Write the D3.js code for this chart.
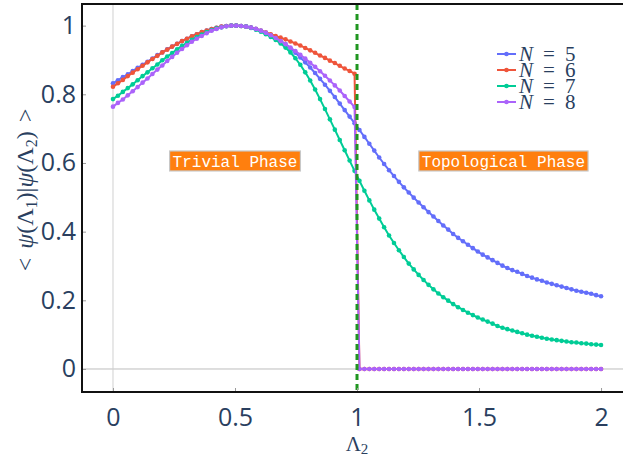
<!DOCTYPE html>
<html>
<head>
<meta charset="utf-8">
<script src="https://cdn.jsdelivr.net/npm/d3@7"></script>
<style>
  html, body { margin: 0; padding: 0; background: #ffffff; }
  svg { display: block; }
</style>
</head>
<body>
<svg id="chart" width="623" height="459"></svg>
<script>
// Sampling grid of the swept coupling Λ2 (100 evenly spaced samples on [0, 2])
const lambdaStart = 0;
const lambdaEnd = 2;
const sampleCount = 100;

// Ground-state overlap <ψ(Λ1)|ψ(Λ2)> for each chain length, one value per sample
const overlapN5 = [
  0.832, 0.841, 0.850, 0.858, 0.868, 0.877, 0.886, 0.895, 0.904, 0.914,
  0.922, 0.931, 0.939, 0.947, 0.955, 0.962, 0.969, 0.975, 0.981, 0.986,
  0.990, 0.994, 0.997, 0.999, 1.000, 1.000, 0.999, 0.998, 0.995, 0.991,
  0.986, 0.980, 0.973, 0.965, 0.956, 0.946, 0.934, 0.921, 0.907, 0.893,
  0.878, 0.862, 0.845, 0.828, 0.810, 0.792, 0.773, 0.754, 0.735, 0.716,
  0.696, 0.676, 0.656, 0.636, 0.616, 0.597, 0.579, 0.562, 0.545, 0.529,
  0.514, 0.499, 0.485, 0.471, 0.457, 0.444, 0.431, 0.418, 0.406, 0.393,
  0.382, 0.372, 0.362, 0.352, 0.342, 0.333, 0.325, 0.317, 0.309, 0.301,
  0.294, 0.288, 0.283, 0.277, 0.271, 0.266, 0.261, 0.257, 0.252, 0.248,
  0.244, 0.240, 0.236, 0.232, 0.228, 0.225, 0.222, 0.219, 0.215, 0.212
];
const overlapN6 = [
  0.822, 0.832, 0.842, 0.853, 0.863, 0.873, 0.883, 0.893, 0.903, 0.912,
  0.922, 0.930, 0.939, 0.947, 0.955, 0.962, 0.969, 0.975, 0.981, 0.986,
  0.990, 0.994, 0.997, 0.999, 1.000, 1.000, 0.999, 0.997, 0.994, 0.990,
  0.985, 0.980, 0.975, 0.970, 0.965, 0.960, 0.954, 0.948, 0.942, 0.935,
  0.928, 0.921, 0.913, 0.906, 0.898, 0.891, 0.883, 0.875, 0.868, 0.860,
  0, 0, 0, 0, 0, 0, 0, 0, 0, 0,
  0, 0, 0, 0, 0, 0, 0, 0, 0, 0,
  0, 0, 0, 0, 0, 0, 0, 0, 0, 0,
  0, 0, 0, 0, 0, 0, 0, 0, 0, 0,
  0, 0, 0, 0, 0, 0, 0, 0, 0, 0
];
const overlapN7 = [
  0.786, 0.796, 0.807, 0.818, 0.829, 0.841, 0.853, 0.864, 0.876, 0.887,
  0.899, 0.910, 0.920, 0.931, 0.941, 0.950, 0.959, 0.967, 0.974, 0.981,
  0.987, 0.992, 0.995, 0.998, 1.000, 1.000, 0.999, 0.997, 0.993, 0.988,
  0.982, 0.975, 0.967, 0.958, 0.948, 0.936, 0.922, 0.905, 0.886, 0.864,
  0.840, 0.814, 0.786, 0.757, 0.727, 0.697, 0.667, 0.637, 0.607, 0.577,
  0.548, 0.519, 0.491, 0.464, 0.438, 0.413, 0.389, 0.367, 0.346, 0.326,
  0.307, 0.290, 0.274, 0.259, 0.245, 0.232, 0.220, 0.209, 0.199, 0.189,
  0.180, 0.172, 0.164, 0.157, 0.150, 0.144, 0.138, 0.132, 0.125, 0.120,
  0.116, 0.112, 0.108, 0.104, 0.100, 0.097, 0.094, 0.091, 0.088, 0.086,
  0.084, 0.082, 0.080, 0.078, 0.077, 0.075, 0.074, 0.072, 0.071, 0.070
];
const overlapN8 = [
  0.764, 0.775, 0.785, 0.797, 0.809, 0.821, 0.834, 0.846, 0.859, 0.872,
  0.884, 0.897, 0.909, 0.921, 0.932, 0.943, 0.953, 0.962, 0.970, 0.978,
  0.985, 0.990, 0.995, 0.998, 1.000, 1.000, 0.999, 0.997, 0.994, 0.990,
  0.985, 0.979, 0.972, 0.964, 0.955, 0.946, 0.936, 0.926, 0.915, 0.904,
  0.892, 0.880, 0.867, 0.854, 0.840, 0.826, 0.811, 0.795, 0.779, 0.763,
  0, 0, 0, 0, 0, 0, 0, 0, 0, 0,
  0, 0, 0, 0, 0, 0, 0, 0, 0, 0,
  0, 0, 0, 0, 0, 0, 0, 0, 0, 0,
  0, 0, 0, 0, 0, 0, 0, 0, 0, 0,
  0, 0, 0, 0, 0, 0, 0, 0, 0, 0
];

const chainLengths = [5, 6, 7, 8];
const seriesColors = ["#636efa", "#EF553B", "#00cc96", "#ab63fa"];

const xTickValues = [0, 0.5, 1, 1.5, 2];
const xTickLabels = ["0", "0.5", "1", "1.5", "2"];
const yTickValues = [0, 0.2, 0.4, 0.6, 0.8, 1];
const yTickLabels = ["0", "0.2", "0.4", "0.6", "0.8", "1"];

// Phase boundary and phase annotations
const criticalLambda = 1;
const phaseLabelText = ["Trivial Phase", "Topological Phase"];
const phaseLabelLambda = [0.5, 1.6];
const phaseLabelOverlap = [0.6, 0.6];

// ---------------------------------------------------------------------------
const W = 623, H = 459;
const plot = { left: 82, right: 623, top: 4, bottom: 392 };
const inkColor = "#2a3f5f";
const mathFont = "'Liberation Serif', 'DejaVu Serif', serif";

const lambda2 = d3.range(sampleCount).map(i => lambdaStart + (lambdaEnd - lambdaStart) * i / (sampleCount - 1));
const series = [overlapN5, overlapN6, overlapN7, overlapN8].map((vals, k) => ({
  n: chainLengths[k],
  color: seriesColors[k],
  points: vals.map((v, i) => ({ x: lambda2[i], y: v }))
}));

const x = d3.scaleLinear().domain([-0.127, 2.09]).range([plot.left, plot.right]);
const y = d3.scaleLinear().domain([-0.067, 1.063]).range([plot.bottom, plot.top]);

const svg = d3.select("#chart");
svg.append("rect").attr("width", W).attr("height", H).attr("fill", "#ffffff");

svg.append("defs").append("clipPath").attr("id", "plot-clip")
  .append("rect")
  .attr("x", plot.left).attr("y", plot.top)
  .attr("width", plot.right - plot.left).attr("height", plot.bottom - plot.top);

// Zero lines
svg.append("line")
  .attr("x1", plot.left).attr("x2", plot.right)
  .attr("y1", y(0)).attr("y2", y(0))
  .attr("stroke", "#bdbdbd").attr("stroke-width", 1);
svg.append("line")
  .attr("x1", x(0)).attr("x2", x(0))
  .attr("y1", plot.top).attr("y2", plot.bottom)
  .attr("stroke", "#d0d0d0").attr("stroke-width", 1);

// Traces
const traces = svg.append("g").attr("clip-path", "url(#plot-clip)");
const line = d3.line().x(d => x(d.x)).y(d => y(d.y));
series.forEach(s => {
  const g = traces.append("g");
  g.append("path")
    .attr("d", line(s.points))
    .attr("fill", "none")
    .attr("stroke", s.color)
    .attr("stroke-width", 2)
    .attr("stroke-linejoin", "round");
  g.selectAll("circle").data(s.points).join("circle")
    .attr("cx", d => x(d.x)).attr("cy", d => y(d.y))
    .attr("r", 2.3)
    .attr("fill", s.color);
});

// Critical point marker
svg.append("line")
  .attr("x1", x(criticalLambda)).attr("x2", x(criticalLambda))
  .attr("y1", plot.top).attr("y2", plot.bottom)
  .attr("stroke", "#1f961f").attr("stroke-width", 3)
  .attr("stroke-dasharray", "6,4");

// Axes with inside ticks
const xAxis = d3.axisBottom(x).tickValues(xTickValues)
  .tickFormat((d, i) => xTickLabels[i]).tickSizeInner(-4).tickSizeOuter(0).tickPadding(16);
const yAxis = d3.axisLeft(y).tickValues(yTickValues)
  .tickFormat((d, i) => yTickLabels[i]).tickSizeInner(-4).tickSizeOuter(0).tickPadding(6);

const gx = svg.append("g").attr("transform", `translate(0,${plot.bottom})`).call(xAxis);
const gy = svg.append("g").attr("transform", `translate(${plot.left},0)`).call(yAxis);
[gx, gy].forEach(g => {
  g.select(".domain").remove();
  g.selectAll(".tick line").attr("stroke", "#9a9a9a").attr("stroke-width", 1);
  g.selectAll(".tick text")
    .attr("fill", inkColor)
    .style("font-family", "'Open Sans', sans-serif")
    .style("font-size", "25px");
});

// Frame lines: left, bottom and mirrored top
const frame = svg.append("g").attr("stroke", "#111").attr("stroke-width", 2);
frame.append("line").attr("x1", plot.left).attr("x2", plot.left).attr("y1", plot.top - 1).attr("y2", plot.bottom + 1);
frame.append("line").attr("x1", plot.left - 1).attr("x2", plot.right).attr("y1", plot.bottom).attr("y2", plot.bottom);
frame.append("line").attr("x1", plot.left - 1).attr("x2", plot.right).attr("y1", plot.top).attr("y2", plot.top);

// Phase annotations
phaseLabelText.forEach((label, i) => {
  const g = svg.append("g")
    .attr("transform", `translate(${x(phaseLabelLambda[i])},${y(phaseLabelOverlap[i]) - 2})`);
  const t = g.append("text")
    .attr("text-anchor", "middle")
    .attr("dy", "0.35em")
    .attr("fill", "#ffffff")
    .style("font-family", "'Liberation Mono', 'Courier New', monospace")
    .style("font-size", "16px")
    .text(label);
  const w = t.node().getComputedTextLength();
  g.insert("rect", "text")
    .attr("x", -w / 2 - 3).attr("y", -10)
    .attr("width", w + 6).attr("height", 20)
    .attr("fill", "#ff7f0e")
    .attr("stroke", "#c8c8c8").attr("stroke-width", 1.2);
});

// Legend
const legend = svg.append("g");
series.forEach((s, i) => {
  const cy = 54 + i * 16;
  legend.append("line")
    .attr("x1", 497).attr("x2", 516).attr("y1", cy).attr("y2", cy)
    .attr("stroke", s.color).attr("stroke-width", 2);
  legend.append("circle").attr("cx", 506.5).attr("cy", cy).attr("r", 2.3).attr("fill", s.color);
  const t = legend.append("text")
    .attr("y", cy + 7)
    .attr("fill", inkColor)
    .style("font-family", mathFont)
    .style("font-size", "21px");
  t.append("tspan").attr("x", 519).style("font-style", "italic").text("N");
  t.append("tspan").attr("x", 543).text("=");
  t.append("tspan").attr("x", 565).text(String(s.n));
});

// Axis titles
const xt = svg.append("text")
  .attr("x", 357).attr("y", 451)
  .attr("text-anchor", "middle")
  .attr("fill", inkColor)
  .style("font-family", mathFont)
  .style("font-size", "21px");
xt.append("tspan").text("Λ");
xt.append("tspan").attr("dy", 3).style("font-size", "15px").text("2");

const yt = svg.append("text")
  .attr("transform", "translate(33,190) rotate(-90)")
  .attr("text-anchor", "middle")
  .attr("fill", inkColor)
  .style("font-family", mathFont)
  .style("font-size", "24px");
yt.append("tspan").text("<");
yt.append("tspan").attr("dx", 9).style("font-style", "italic").text("ψ");
yt.append("tspan").text("(Λ");
yt.append("tspan").attr("dy", 4).style("font-size", "16px").text("1");
yt.append("tspan").attr("dy", -4).text(")|");
yt.append("tspan").style("font-style", "italic").text("ψ");
yt.append("tspan").text("(Λ");
yt.append("tspan").attr("dy", 4).style("font-size", "16px").text("2");
yt.append("tspan").attr("dy", -4).text(")");
yt.append("tspan").attr("dx", 9).text(">");
</script>
</body>
</html>
